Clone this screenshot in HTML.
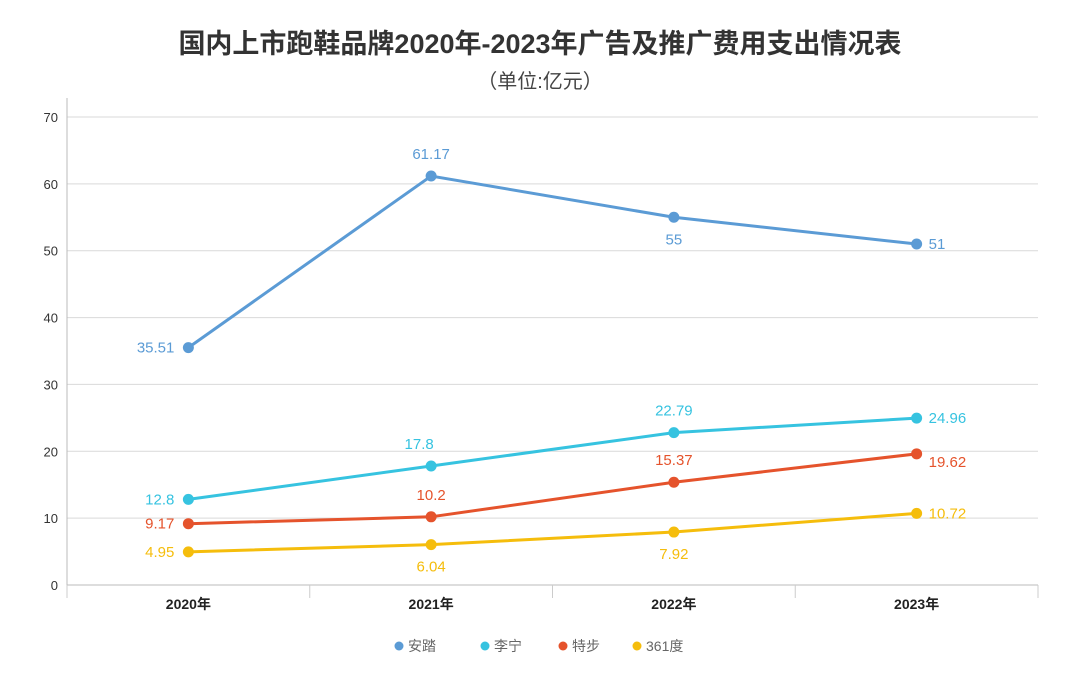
<!DOCTYPE html>
<html><head><meta charset="utf-8"><style>
body{margin:0;background:#fff;width:1080px;height:673px;overflow:hidden}
svg{font-family:"Liberation Sans","Noto Sans CJK SC",sans-serif}
</style></head><body>
<svg id="c" width="1080" height="673">
<text x="540" y="53" text-anchor="middle" font-size="27" font-weight="bold" fill="#333">国内上市跑鞋品牌2020年-2023年广告及推广费用支出情况表</text>
<text x="540" y="88" text-anchor="middle" font-size="20" fill="#444">（单位:亿元）</text>
</svg>
<script>
const categories=["2020年","2021年","2022年","2023年"];
const seriesNames=["安踏","李宁","特步","361度"];
const anta=[35.51,61.17,55,51];
const lining=[12.8,17.8,22.79,24.96];
const xtep=[9.17,10.2,15.37,19.62];
const s361=[4.95,6.04,7.92,10.72];
const yTicks=[0,10,20,30,40,50,60,70];
const colors=["#5b9bd5","#36c3e0","#e5532c","#f5bd0c"];
const labelPos=[["l","t","b","r"],["l","tl","t","r"],["l","t","t","rb"],["l","b","b","r"]];
const svg=document.getElementById('c');const NS="http://www.w3.org/2000/svg";
const L=67,R=1038,Y0=585,Y1=117;
const y=v=>Y0-(v/70)*(Y0-Y1);
const bw=(R-L)/categories.length;
const x=i=>L+bw*(i+0.5);
function mk(t,a,p){const e=document.createElementNS(NS,t);for(const k in a)e.setAttribute(k,a[k]);(p||svg).appendChild(e);return e;}
yTicks.forEach(v=>{
 const g=mk('line',{x1:L,x2:R,y1:y(v),y2:y(v),stroke:v===0?'#bbb':'#d9d9d9','stroke-width':1});
 
 
 const t=mk('text',{x:L-9,y:y(v)+5,'text-anchor':'end','font-size':13,fill:'#333'});t.textContent=v;
 
 
});
const ax=mk('line',{x1:L,x2:L,y1:98,y2:598,stroke:'#bbb'});


for(let i=0;i<=categories.length;i++){const tk=mk('line',{x1:L+bw*i,x2:L+bw*i,y1:585,y2:598,stroke:'#ccc'});
 
 }
categories.forEach((c,i)=>{const t=mk('text',{x:x(i),y:609,'text-anchor':'middle','font-size':14,'font-weight':'bold',fill:'#222'});t.textContent=c;
 
 });
const all=[anta,lining,xtep,s361];
all.forEach((d,s)=>{
 const p=mk('polyline',{points:d.map((v,i)=>x(i)+','+y(v)).join(' '),fill:'none',stroke:colors[s],'stroke-width':3});
 
 
 d.forEach((v,i)=>{
  const c=mk('circle',{cx:x(i),cy:y(v),r:5.5,fill:colors[s]});
  
  
  const pos=labelPos[s][i];let lx=x(i),ly=y(v)+5,a='middle';
  if(pos==='l'){lx-=14;a='end';}
  else if(pos==='r'){lx+=12;a='start';}
  else if(pos==='rb'){lx+=12;a='start';ly+=8;}
  else if(pos==='t'){ly-=22;}
  else if(pos==='tl'){ly-=22;lx-=12;}
  else if(pos==='b'){ly+=22;}
  const t=mk('text',{x:lx,y:ly,'text-anchor':a,'font-size':15,fill:colors[s]});t.textContent=v;
  
  
 });
});
const lx=[399,485,563,637];
seriesNames.forEach((n,s)=>{
 const g=mk('g',{});
 
 
 mk('circle',{cx:lx[s],cy:646,r:4.5,fill:colors[s]},g);
 const t=mk('text',{x:lx[s]+9,y:651,'font-size':14,fill:'#666'},g);t.textContent=n;
});
</script>
</body></html>
